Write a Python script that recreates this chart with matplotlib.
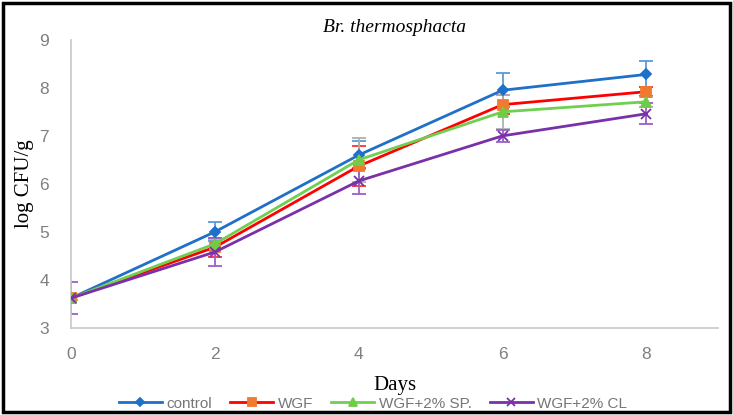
import matplotlib.pyplot as plt
from matplotlib.patches import Rectangle

days = [0, 2, 4, 6, 8]
control = [3.62, 5.0, 6.6, 7.95, 8.28]
wgf = [3.62, 4.68, 6.37, 7.65, 7.92]
sp = [3.62, 4.75, 6.5, 7.5, 7.71]
cl = [3.62, 4.58, 6.06, 7.0, 7.46]

control_err = [0.05, 0.2, 0.3, 0.35, 0.27]
wgf_err = [0.05, 0.2, 0.42, 0.2, 0.1]
sp_err = [0.05, 0.1, 0.46, 0.35, 0.1]
cl_err = [0.33, 0.3, 0.27, 0.12, 0.22]

series = [
    ("control", control, control_err, "#1F70C8", "#1F70C8", "D", 5, "#5B9BD5"),
    ("WGF", wgf, wgf_err, "#FF0000", "#F07A30", "s", 7, "#FF3030"),
    ("WGF+2% SP.", sp, sp_err, "#6FD050", "#6FCC45", "^", 7, "#B0B0B0"),
    ("WGF+2% CL", cl, cl_err, "#7A30A8", "#7A30A8", "x", 7, "#9A60C8"),
]

sans = ["Liberation Sans", "DejaVu Sans"]

fig = plt.figure(figsize=(7.33, 4.15), dpi=100)
ax = fig.add_axes([0.097, 0.21, 0.883, 0.694])

for label, vals, err, lc, mc, mk, ms, ec in series:
    ax.errorbar(days, vals, yerr=err, fmt="none", ecolor=ec, elinewidth=1.3,
                capsize=5, capthick=1.3, zorder=2)
    ax.plot(days, vals, color=lc, lw=2, marker=mk, markersize=ms,
            markerfacecolor=mc, markeredgecolor=mc, markeredgewidth=1.3,
            label=label, zorder=3)

ax.set_xlim(0, 9)
ax.set_ylim(3, 9)
ax.set_xticks([0, 2, 4, 6, 8])
ax.set_yticks([3, 4, 5, 6, 7, 8, 9])
for s in ["top", "right"]:
    ax.spines[s].set_visible(False)
for s in ["left", "bottom"]:
    ax.spines[s].set_color("#C8C8C8")
    ax.spines[s].set_linewidth(1.2)
ax.tick_params(length=0, labelsize=12.5, labelcolor="#808080", pad=14)
ax.tick_params(axis="y", pad=16)
for t in ax.get_xticklabels() + ax.get_yticklabels():
    t.set_fontfamily(sans)

ax.set_title("Br. thermosphacta", family="Liberation Serif", style="italic",
             fontsize=14, pad=6)
ax.set_ylabel("log CFU/g", family="Liberation Serif", fontsize=15, labelpad=4)
ax.set_xlabel("Days", family="Liberation Serif", fontsize=15, labelpad=10)

handles, labels = ax.get_legend_handles_labels()
leg = fig.legend(handles, labels, loc="center", bbox_to_anchor=(0.509, 0.027), ncol=4,
                 frameon=False, handlelength=2.8, columnspacing=1.2, handletextpad=0.3,
                 markerscale=0.85, prop={"family": sans, "size": 11})
for t in leg.get_texts():
    t.set_color("#767676")

fig.patches.append(Rectangle((0.004, 0.008), 0.992, 0.985, transform=fig.transFigure,
                             fill=False, edgecolor="black", linewidth=2.5))

fig.savefig("out.png", dpi=100)
